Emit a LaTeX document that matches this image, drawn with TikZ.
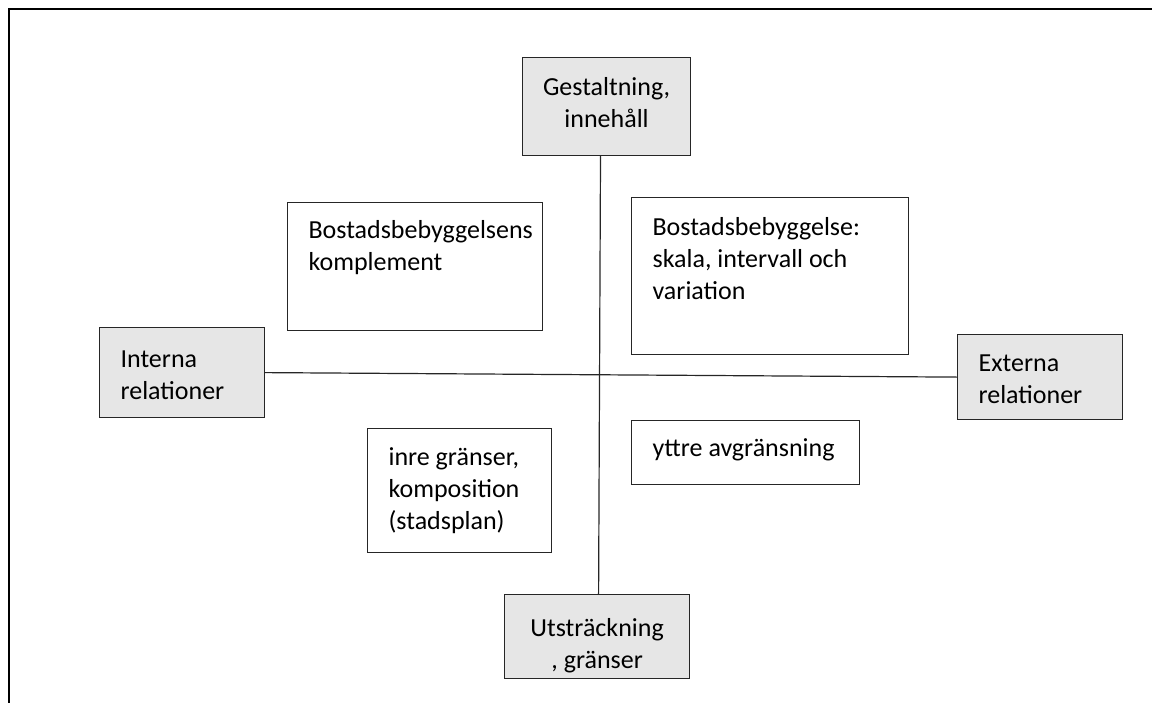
\documentclass[tikz,border=0pt]{standalone}
\usepackage{fontspec}
\setmainfont{Carlito}
\usetikzlibrary{calc}
\hyphenpenalty=10000
\definecolor{boxgray}{RGB}{230,230,230}

\begin{document}
\begin{tikzpicture}[x=0.5pt,y=-0.5pt,
  box/.style={draw=black!85,line width=0.6pt,anchor=north west,inner xsep=10.5pt,inner ysep=0pt,
    align=flush left,font=\fontsize{13pt}{16pt}\selectfont},
  graybox/.style={box,fill=boxgray},
  midbox/.style={align=flush center,inner xsep=0pt},
  axis/.style={draw=black!85,line width=0.6pt}]
\useasboundingbox (0,0) rectangle (1152,702);
\draw [line width=1pt] (9,710) -- (9,9) -- (1160,9);

% the four ends of the axes
\node [graybox,midbox,text width=84pt,text height=19pt,text depth=30pt] (form) at (522,57) {Gestaltning,\\innehåll};
\node [graybox,midbox,text width=92.5pt,text height=21pt,text depth=21pt] (extent) at (504,594) {Utsträckning\\, gränser};
\node [graybox,text width=61.5pt,text height=20pt,text depth=25pt] (internal) at (99,327) {Interna\\relationer};
\node [graybox,text width=61.5pt,text height=18.5pt,text depth=24pt] (external) at (957,334) {Externa\\relationer};

\draw [axis] ($(form.south west)!0.464!(form.south east)$) -- ($(extent.north west)!0.508!(extent.north east)$);
\draw [axis] (internal.east) -- (external.west);

% the four fields
\node [box,text width=106.5pt,text height=18pt,text depth=46pt] (complement) at (287,202) {Bostadsbebyggelsens\\komplement};
\node [box,text width=117.5pt,text height=19pt,text depth=59.5pt] (housing) at (631,197) {Bostadsbebyggelse:\\skala, intervall och\\variation};
\node [box,text width=71pt,text height=18.5pt,text depth=43.5pt] (inner) at (367,428) {inre gränser,\\komposition\\(stadsplan)};
\node [box,text width=93pt,text height=18pt,text depth=14pt] (outer) at (631,420) {yttre avgränsning};

\end{tikzpicture}
\end{document}
